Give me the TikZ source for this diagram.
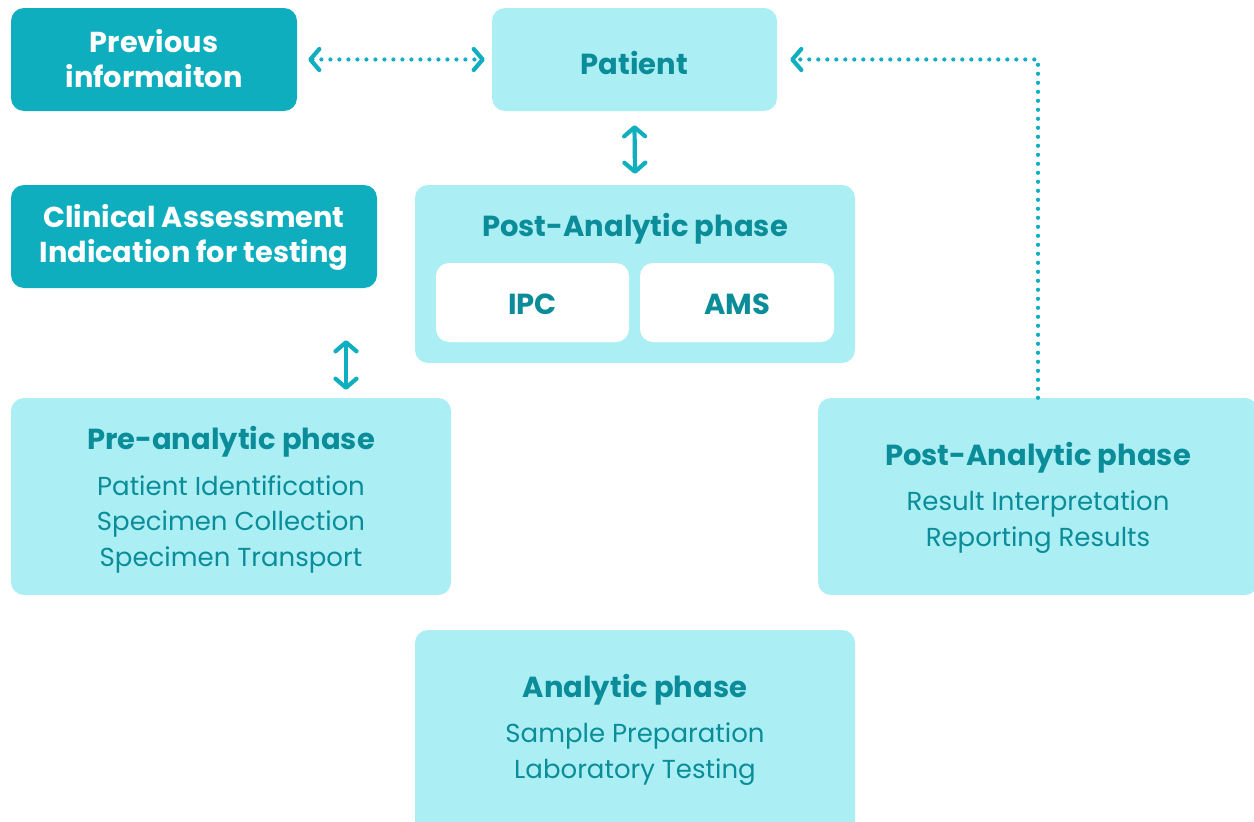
\documentclass[tikz,border=0pt]{standalone}
\usepackage{fontspec}
\setmainfont{Poppins}
\usetikzlibrary{arrows.meta,positioning}
\definecolor{dark}{HTML}{0FAEBF}
\definecolor{light}{HTML}{ABEFF4}
\definecolor{txt}{HTML}{0B8D99}
\definecolor{arr}{HTML}{10AFC0}
\tikzset{
  darkbox/.style={fill=dark, rounded corners=13pt, inner sep=0pt},
  lightbox/.style={fill=light, rounded corners=13pt, inner sep=0pt},
  whitebox/.style={fill=white, rounded corners=13pt, inner sep=0pt},
  title/.style={text=txt, font=\fontsize{29}{34}\selectfont\bfseries, align=center, inner sep=0pt},
  wtitle/.style={text=white, font=\fontsize{28.8}{35}\selectfont\bfseries, align=center, inner sep=0pt},
  body/.style={text=txt, font=\fontsize{26}{35.5}\selectfont, align=center, inner sep=0pt},
  barb/.tip={Straight Barb[length=9pt,width=21pt,line cap=round,line join=round]},
  solidarrow/.style={draw=arr, line width=4.2pt, barb-barb},
  dotarrow/.style={draw=arr, line width=4.2pt, line cap=round, dash pattern=on 0pt off 9pt},
}
\begin{document}
\begin{tikzpicture}[x=1pt,y=-1pt]
\useasboundingbox[fill=white] (0,0) rectangle (1254,822);
% boxes
\node[darkbox, minimum width=286pt, minimum height=103pt] (prev) at (154,59.5) {};
\node[lightbox, minimum width=285pt, minimum height=103pt] (patient) at (634.5,59.5) {};
\node[darkbox, minimum width=366pt, minimum height=103pt] (clin) at (194,236.5) {};
\node[lightbox, minimum width=440pt, minimum height=178pt] (posttop) at (635,274) {};
\node[whitebox, minimum width=193pt, minimum height=79pt] (ipcbox) at (532.5,302.5) {};
\node[whitebox, minimum width=194pt, minimum height=79pt] (amsbox) at (737,302.5) {};
\node[lightbox, minimum width=440pt, minimum height=197pt] (pre) at (231,496.5) {};
\node[lightbox, minimum width=440pt, minimum height=197pt] (postr) at (1038,496.5) {};
\node[lightbox, minimum width=440pt, minimum height=210pt] (ana) at (635,735) {};
% texts
\node[wtitle] (prevt) at (154,58.5) {Previous\\informaiton};
\node[title] (patientt) at (634.5,62.5) {Patient};
\node[wtitle] (clint) at (194,237) {Clinical Assessment\\Indication for testing};
\node[title] (posttopt) at (635,228.5) {Post-Analytic phase};
\node[title] (ipc) at (532.5,304.5) {IPC};
\node[title] (ams) at (737,304.5) {AMS};
\node[title] (pret) at (231,441.5) {Pre-analytic phase};
\node[body] (prel) at (231,524) {Patient Identification\\Specimen Collection\\Specimen Transport};
\node[title] (postrt) at (1038,457.5) {Post-Analytic phase};
\node[body] (postrl) at (1038,522) {Result Interpretation\\Reporting Results};
\node[title] (anat) at (635,689.5) {Analytic phase};
\node[body] (anal) at (635,754) {Sample Preparation\\Laboratory Testing};
% connectors
\draw[solidarrow] ([yshift=-14pt]patient.south) -- ([yshift=11pt]posttop.north);
\draw[solidarrow] ([xshift=152pt,yshift=-52pt]clin.south) -- ([xshift=115pt,yshift=8pt]pre.north);
\draw[dotarrow, barb-barb] ([xshift=11pt]prev.east) -- ([xshift=-7pt]patient.west);
\draw[dotarrow, -barb] (postr.north) |- ([xshift=13pt]patient.east);
\end{tikzpicture}
\end{document}
